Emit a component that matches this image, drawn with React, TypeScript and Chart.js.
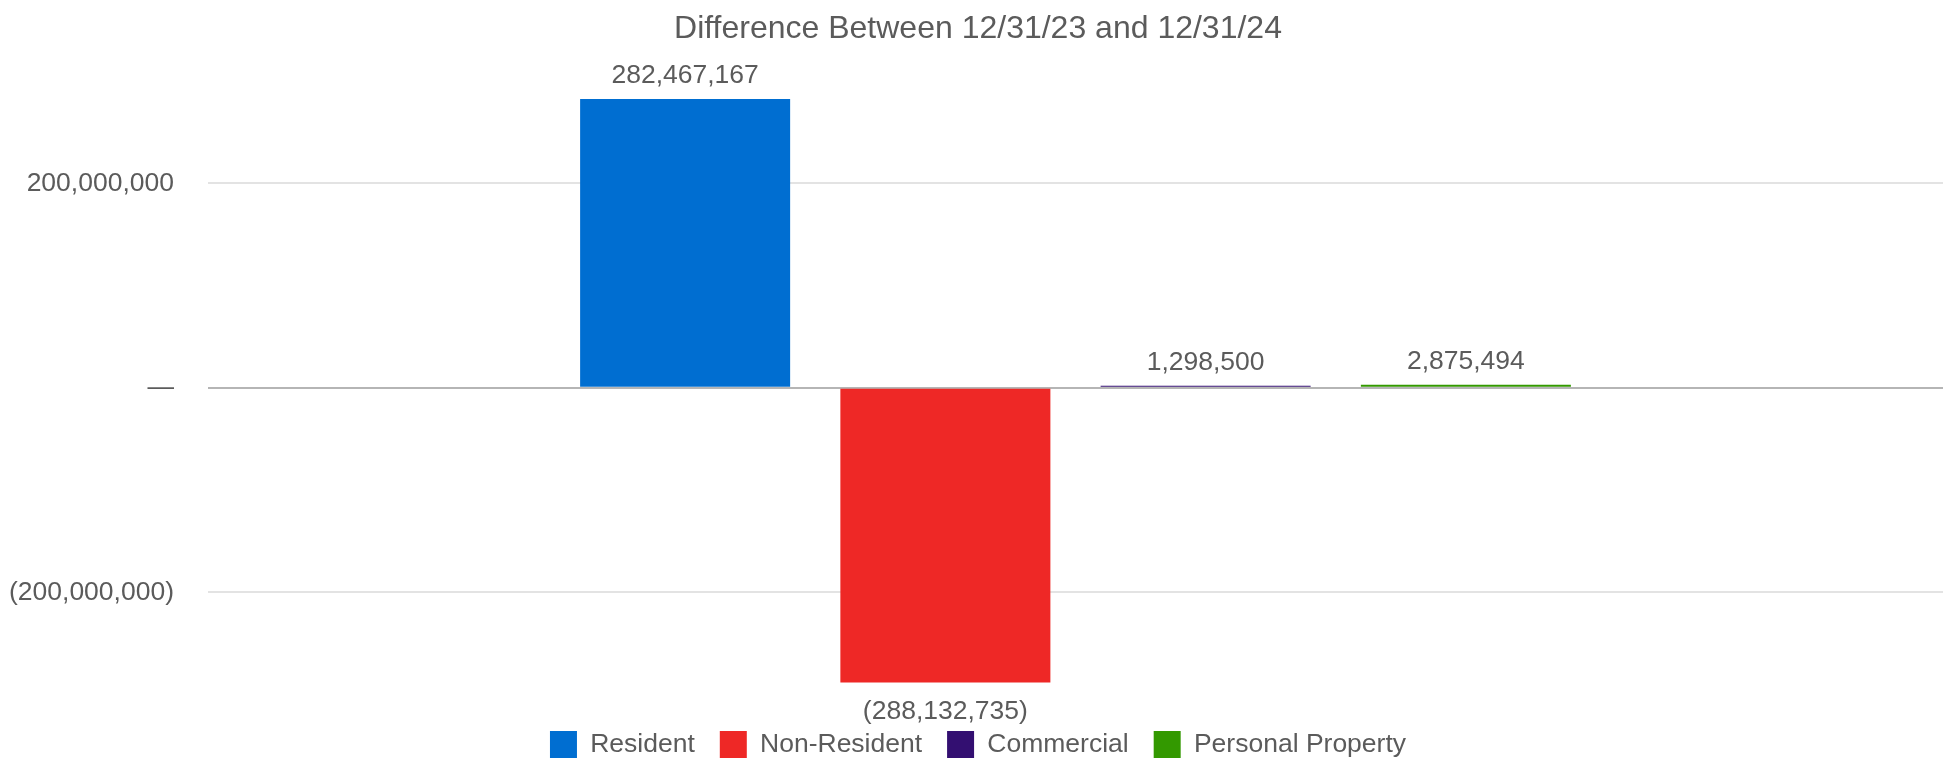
import React, { useEffect, useRef } from 'react';
import { Chart, registerables } from 'chart.js';

Chart.register(...registerables);

const titleText = 'Difference Between 12/31/23 and 12/31/24';
const categories = [''];
const seriesNames = ['Resident', 'Non-Resident', 'Commercial', 'Personal Property'];
const seriesValues = [282467167, -288132735, 1298500, 2875494];
const seriesColors = ['#006ed1', '#ee2826', '#330f71', '#339900'];
const yTickValues = [-200000000, 0, 200000000];
const yMin = -311200000;
const yMax = 298000000;

const FONT_FAMILY = '"Liberation Sans", Arial, Helvetica, sans-serif';
const TEXT_COLOR = '#5b5b5b';

function withCommas(n: number): string {
  return String(Math.round(Math.abs(n))).replace(/\B(?=(\d{3})+(?!\d))/g, ',');
}

function fmt(v: number): string {
  if (v === 0) return '\u2014';
  const s = withCommas(v);
  return v < 0 ? `(${s})` : s;
}

const valueLabels = {
  id: 'valueLabels',
  afterDatasetsDraw(chart: any) {
    const ctx = chart.ctx;
    ctx.save();
    ctx.font = `26.5px ${FONT_FAMILY}`;
    ctx.fillStyle = TEXT_COLOR;
    ctx.textAlign = 'center';
    ctx.textBaseline = 'alphabetic';
    chart.data.datasets.forEach((ds: any, i: number) => {
      const meta = chart.getDatasetMeta(i);
      meta.data.forEach((el: any, j: number) => {
        const v = ds.data[j] as number;
        const y = v >= 0 ? Math.min(el.y, el.base) - 15.5 : el.y + 36.5;
        ctx.fillText(fmt(v), el.x, y);
      });
    });
    ctx.restore();
  },
};

export default function App() {
  const canvasRef = useRef<HTMLCanvasElement | null>(null);

  useEffect(() => {
    if (!canvasRef.current) return;
    const chart = new Chart(canvasRef.current, {
      type: 'bar',
      data: {
        labels: categories,
        datasets: seriesNames.map((name, i) => ({
          label: name,
          data: [seriesValues[i]],
          backgroundColor: seriesColors[i],
          borderWidth: 0,
          barPercentage: 0.807,
          categoryPercentage: 0.6,
          minBarLength: 2,
        })),
      },
      options: {
        animation: false,
        responsive: true,
        maintainAspectRatio: false,
        layout: { padding: { left: 7, right: 0, top: 2, bottom: 0 } },
        plugins: {
          title: {
            display: true,
            text: titleText,
            color: TEXT_COLOR,
            font: { family: FONT_FAMILY, size: 32, weight: 'normal' },
            padding: { top: 8, bottom: 34.7 },
          },
          legend: {
            display: true,
            position: 'bottom',
            labels: {
              color: TEXT_COLOR,
              font: { family: FONT_FAMILY, size: 26.5 },
              boxWidth: 27,
              boxHeight: 27,
              padding: 25,
            },
          },
          tooltip: { enabled: false },
        },
        scales: {
          x: {
            type: 'category',
            display: false,
            grid: { display: false },
          },
          y: {
            type: 'linear',
            position: 'left',
            min: yMin,
            max: yMax,
            border: { display: false },
            grid: {
              drawTicks: false,
              lineWidth: 2,
              color: (c: any) => (c.tick && c.tick.value === 0 ? '#b5b5b5' : '#e3e3e3'),
            },
            ticks: {
              padding: 34,
              color: TEXT_COLOR,
              font: { family: FONT_FAMILY, size: 26.5 },
              callback: (v: any) => fmt(Number(v)),
            },
            afterBuildTicks: (scale: any) => {
              scale.ticks = yTickValues.map((v) => ({ value: v }));
            },
            afterFit: (scale: any) => {
              scale.width = 201;
            },
          },
          yRight: {
            type: 'linear',
            position: 'right',
            display: true,
            min: yMin,
            max: yMax,
            border: { display: false },
            grid: { display: false, drawTicks: false },
            ticks: { display: false },
            afterFit: (scale: any) => {
              scale.width = 6;
            },
          },
        },
      },
      plugins: [valueLabels],
    } as any);
    return () => chart.destroy();
  }, []);

  return (
    <div style={{ position: 'fixed', left: 0, top: 0, width: '1949px', height: '762px', overflow: 'hidden', background: '#fff' }}>
      <div style={{ position: 'absolute', left: 0, top: 0, width: '1949px', height: '768px' }}>
        <canvas ref={canvasRef} />
      </div>
    </div>
  );
}
